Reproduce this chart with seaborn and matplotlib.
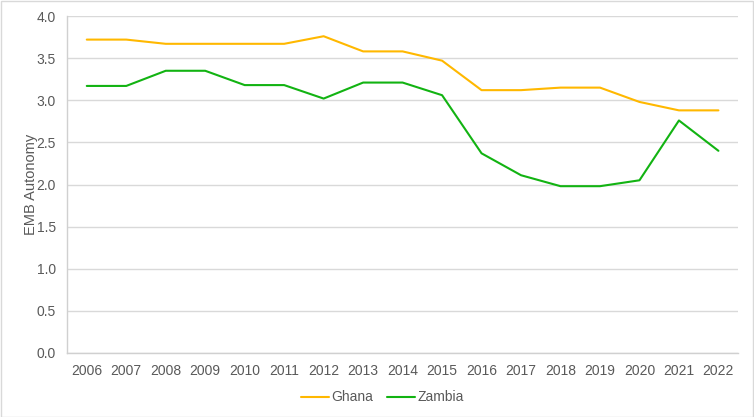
import matplotlib
matplotlib.use("Agg")
import matplotlib.pyplot as plt
import seaborn as sns
import pandas as pd

years = [str(y) for y in range(2006, 2023)]
ghana = [3.72, 3.72, 3.67, 3.67, 3.67, 3.67, 3.76, 3.58, 3.58, 3.47,
         3.12, 3.12, 3.15, 3.15, 2.98, 2.88, 2.88]
zambia = [3.17, 3.17, 3.35, 3.35, 3.18, 3.18, 3.02, 3.21, 3.21, 3.06,
          2.37, 2.11, 1.98, 1.98, 2.05, 2.76, 2.40]

df = pd.DataFrame({"Year": years * 2,
                   "EMB Autonomy": ghana + zambia,
                   "Country": ["Ghana"] * len(years) + ["Zambia"] * len(years)})

sns.set_style("white")
plt.rcParams['font.family'] = ['Liberation Sans', 'DejaVu Sans']
text_grey = "#595959"

fig = plt.figure(figsize=(7.54, 4.17), dpi=100)
ax = fig.add_axes([0.0889, 0.1535, 0.8901, 0.8081])

sns.lineplot(data=df, x="Year", y="EMB Autonomy", hue="Country",
             palette={"Ghana": "#FFB800", "Zambia": "#12B312"},
             linewidth=1.5, ax=ax, legend=True)

ax.set_xlim(-0.5, len(years) - 0.5)
ax.set_ylim(0, 4.0)
ax.set_yticks([0, 0.5, 1.0, 1.5, 2.0, 2.5, 3.0, 3.5, 4.0])
ax.set_yticklabels([f"{v:.1f}" for v in ax.get_yticks()])
ax.yaxis.grid(True, color="#D9D9D9", linewidth=1)
ax.set_axisbelow(True)
ax.tick_params(axis="both", colors=text_grey, labelsize=10, length=0, pad=8)
ax.set_xlabel("")
ax.set_ylabel("EMB Autonomy", color=text_grey, fontsize=10.5, labelpad=-1)

for side in ["top", "right"]:
    ax.spines[side].set_visible(False)
for side in ["left", "bottom"]:
    ax.spines[side].set_color("#D0D0D0")
    ax.spines[side].set_linewidth(1)

handles, labels = ax.get_legend_handles_labels()
ax.legend(handles, labels, loc="center", bbox_to_anchor=(0.47, -0.132),
          ncol=2, frameon=False, fontsize=10, labelcolor=text_grey,
          handlelength=2.0, handletextpad=0.2, columnspacing=1.0)

fig.patches.append(plt.Rectangle((0.001, 0.001), 0.998, 0.997, transform=fig.transFigure,
                                 fill=False, edgecolor="#D9D9D9", linewidth=1))

fig.savefig("out.png", dpi=100, facecolor="white")
